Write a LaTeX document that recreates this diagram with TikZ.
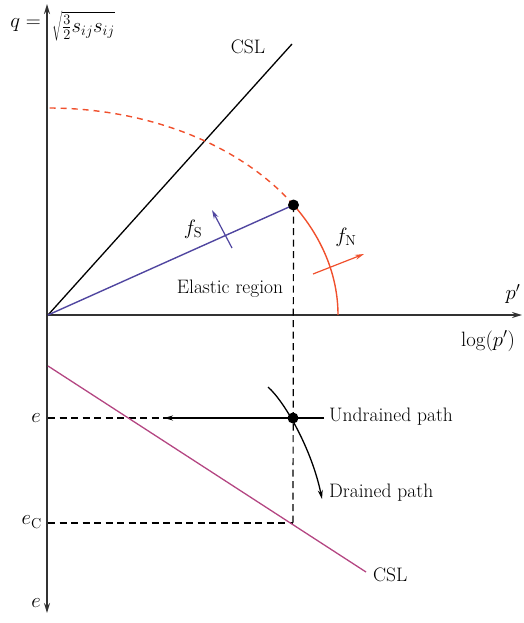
\documentclass[tikz,border=0pt]{standalone}
\usetikzlibrary{arrows.meta}
\definecolor{redc}{RGB}{240,80,45}
\definecolor{bluec}{RGB}{80,70,160}
\definecolor{magc}{RGB}{180,70,130}
\definecolor{axc}{RGB}{50,50,50}
\begin{document}
\begin{tikzpicture}[x=1pt,y=-1pt,
  font=\fontsize{19.5}{23}\selectfont,
  axis/.style={axc,line width=1.6pt},
  tip/.style={-{Stealth[length=9pt,width=5pt]}},
  guide/.style={black,line width=1.2pt,dash pattern=on 7pt off 4.5pt},
  lbl/.style={inner sep=1pt}]
\useasboundingbox (0,0) rectangle (523,623);
% coordinates
\coordinate (O) at (48,315);
\coordinate (Qtop) at (47,4);
\coordinate (Qbot) at (47,613);
\coordinate (Pend) at (522,315);
\coordinate (P) at (293.5,205);
\coordinate (U) at (293,418);
\coordinate (C) at (293,523);
\coordinate (Ea) at (48,418);
\coordinate (Ec) at (48,523);
\coordinate (CSLa) at (292,44);
\coordinate (CSLb1) at (48,366);
\coordinate (CSLb2) at (366,572);
\coordinate (Rstart) at (338,315);
% axes
\draw[axis,{Stealth[length=10pt,width=6pt]}-{Stealth[length=10pt,width=6pt]}] (Qtop) -- (Qbot);
\draw[axis,-{Stealth[length=10pt,width=6pt]}] (O) -- (Pend);
% CSL upper
\draw[black,line width=1.3pt] (O) -- (CSLa);
\node[lbl] (csl1) at (248,47) {CSL};
% yield surface
\draw[redc,line width=1.4pt] (Rstart) arc[start angle=0,end angle=32.1,x radius=290pt,y radius=207pt];
\draw[redc,line width=1.4pt,dash pattern=on 6pt off 5pt] (P) arc[start angle=32.1,end angle=90,x radius=290pt,y radius=207pt];
% stress path
\draw[bluec,line width=1.4pt] (O) -- (P);
% normals
\coordinate (fs1) at (232,248);
\coordinate (fs2) at (212,210);
\draw[bluec,line width=1.2pt,tip] (fs1) -- (fs2);
\node[lbl] (fS) at (193,229) {$f_{\mathrm{S}}$};
\coordinate (fn1) at (313,274);
\coordinate (fn2) at (364,254);
\draw[redc,line width=1.2pt,tip] (fn1) -- (fn2);
\node[lbl] (fN) at (346,237) {$f_{\mathrm{N}}$};
\node[lbl] (elastic) at (230,289) {Elastic region};
% guides
\draw[guide] (P) -- (C);
\draw[guide] (Ea) -- (U);
\draw[guide] (Ec) -- (C);
% CSL lower
\draw[magc,line width=1.3pt] (CSLb1) -- (CSLb2);
\node[lbl,anchor=west] (csl2) at (372,575) {CSL};
% paths
\coordinate (ua) at (324,418);
\coordinate (ub) at (164,418);
\draw[black,line width=1.2pt,tip] (ua) -- (ub);
\node[lbl,anchor=west] (und) at (328,417) {Undrained path};
\coordinate (da) at (268,387);
\coordinate (db) at (322,499);
\draw[black,line width=1.3pt,tip] (da) .. controls (285,402) and (312,450) .. (db);
\node[lbl,anchor=west] (dr) at (328,493) {Drained path};
\fill[black] (P) circle (5.5pt);
\fill[black] (U) circle (5.5pt);
% axis labels
\node[lbl] (pp) at (513,294) {$p'$};
\node[lbl] (logp) at (488,341) {$\log(p')$};
\node[lbl,anchor=east] (elbl) at (42,418) {$e$};
\node[lbl,anchor=east] (eclbl) at (43,522) {$e_{\mathrm{C}}$};
\node[lbl,anchor=east] (ebot) at (42,603) {$e$};
\node[lbl,anchor=east] (qlbl) at (42,25) {$q=$};
\node[lbl,anchor=north west] (qdef) at (51,10) {$\sqrt{\textstyle\frac{3}{2}s_{ij}s_{ij}}$};
\end{tikzpicture}
\end{document}
